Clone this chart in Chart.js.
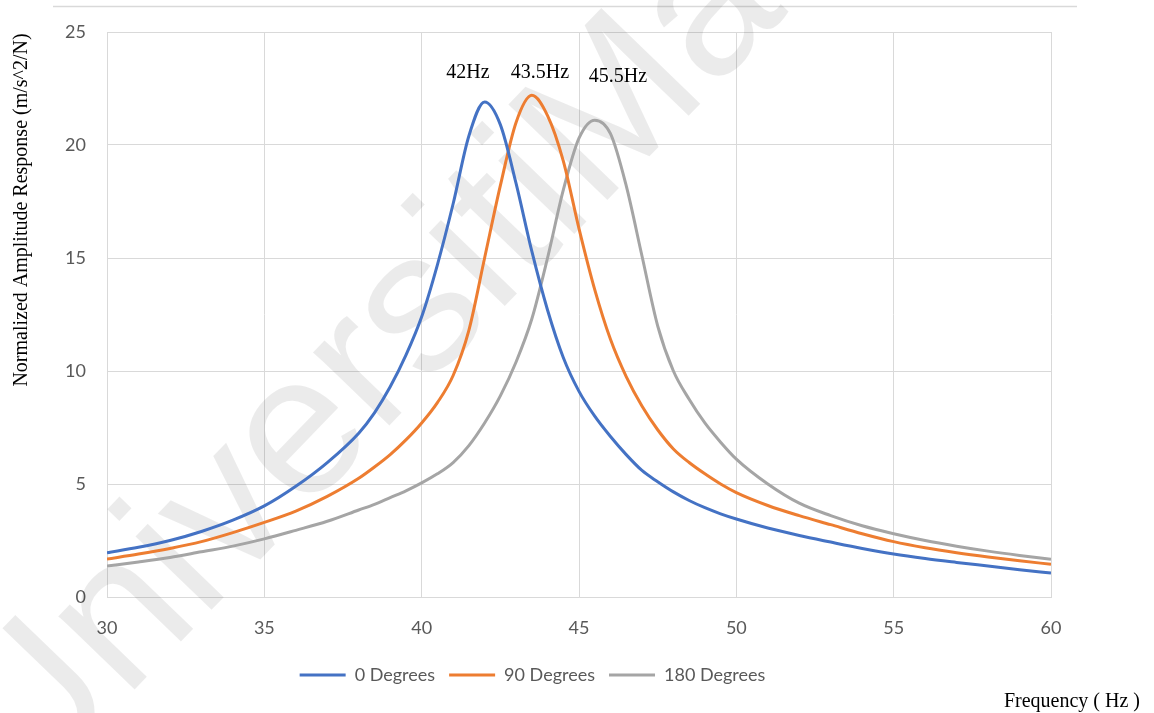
<!DOCTYPE html>
<html>
<head>
<meta charset="utf-8">
<script src="https://cdn.jsdelivr.net/npm/chart.js@4.4.0/dist/chart.umd.min.js"></script>
<style>
  html, body { margin: 0; padding: 0; background: #fff; }
</style>
</head>
<body>
<canvas id="resp" width="1154" height="713"></canvas>
<script>
// frequency (Hz) sample points, shared by all three series
const freq = [30, 31, 32, 33, 34, 35, 36, 37, 38, 38.5, 39, 39.5, 40, 40.5, 41, 41.5, 42, 42.5, 43, 43.5,
  44, 44.5, 45, 45.5, 46, 46.5, 47, 47.5, 48, 48.5, 49, 49.5, 50, 51, 52, 53, 54, 55, 56, 57, 58, 59, 60];
const deg0 = [1.96, 2.2, 2.5, 2.9, 3.4, 4.03, 4.9, 5.95, 7.25, 8.15, 9.3, 10.7, 12.4, 14.7, 17.4, 20.4, 21.9, 20.9, 18.3, 15.3,
  12.7, 10.6, 9.1, 8.0, 7.1, 6.3, 5.6, 5.1, 4.65, 4.27, 3.95, 3.68, 3.45, 3.05, 2.72, 2.43, 2.15, 1.9, 1.7, 1.53, 1.37, 1.21, 1.06];
const deg90 = [1.68, 1.9, 2.15, 2.45, 2.85, 3.3, 3.8, 4.45, 5.25, 5.75, 6.3, 6.95, 7.7, 8.6, 9.8, 11.8, 15.0, 18.2, 21.0, 22.2,
  21.3, 19.3, 16.3, 13.6, 11.4, 9.75, 8.45, 7.4, 6.55, 5.95, 5.45, 5.0, 4.62, 4.05, 3.6, 3.2, 2.8, 2.45, 2.18, 1.96, 1.77, 1.6, 1.45];
const deg180 = [1.37, 1.55, 1.75, 2.0, 2.25, 2.57, 2.95, 3.35, 3.85, 4.1, 4.4, 4.7, 5.05, 5.45, 5.95, 6.7, 7.7, 8.9, 10.4, 12.3,
  15.0, 18.0, 20.3, 21.1, 20.5, 18.2, 15.1, 12.0, 10.0, 8.75, 7.7, 6.85, 6.1, 5.0, 4.15, 3.6, 3.15, 2.8, 2.5, 2.25, 2.03, 1.84, 1.67];
const seriesNames = ['0 Degrees', '90 Degrees', '180 Degrees'];
const seriesColors = ['#4472c4', '#ed7d31', '#a5a5a5'];

// peak annotations (text, x in Hz, y in response units)
const peakText = ['42Hz', '43.5Hz', '45.5Hz'];
const peakX = [41.47, 43.76, 46.24];
const peakY = [23.2, 23.2, 23.0];

const yTitle = 'Normalized Amplitude Response (m/s^2/N)';
const xTitle = 'Frequency ( Hz )';
const watermark = 'UniversitiMa';

const toPoints = (ys) => freq.map((f, i) => ({ x: f, y: ys[i] }));
const allSeries = [deg0, deg90, deg180];

const extras = {
  id: 'extras',
  afterLayout(chart) {
    // nudge the legend a little to the right, like the original
    chart.legend.left += 7;
    chart.legend.right += 7;
  },
  beforeDraw(chart) {
    const ctx = chart.ctx;
    ctx.save();
    ctx.strokeStyle = '#d9d9d9';
    ctx.lineWidth = 1.5;
    ctx.beginPath();
    ctx.moveTo(53, 6.5);
    ctx.lineTo(1077, 6.5);
    ctx.stroke();
    ctx.restore();
  },
  beforeDatasetsDraw(chart) {
    const ctx = chart.ctx;
    ctx.save();
    ctx.translate(-15, 765);
    ctx.rotate(-46 * Math.PI / 180);
    ctx.font = '200px "Liberation Sans"';
    ctx.fillStyle = 'rgba(0,0,0,0.08)';
    ctx.fillText(watermark, 0, 0);
    ctx.restore();
  },
  afterDraw(chart) {
    const ctx = chart.ctx;
    const xs = chart.scales.x, ys = chart.scales.y;
    ctx.save();
    ctx.fillStyle = '#000';
    ctx.font = '20px "Liberation Serif"';
    ctx.textAlign = 'center';
    ctx.textBaseline = 'middle';
    peakText.forEach((t, i) => {
      ctx.fillText(t, xs.getPixelForValue(peakX[i]), ys.getPixelForValue(peakY[i]));
    });
    ctx.textAlign = 'right';
    ctx.fillText(xTitle, 1140, 702);
    ctx.translate(22, 210);
    ctx.rotate(-Math.PI / 2);
    ctx.textAlign = 'center';
    ctx.fillText(yTitle, 0, 0);
    ctx.restore();
  }
};

new Chart(document.getElementById('resp'), {
  type: 'scatter',
  data: {
    datasets: allSeries.map((ys, i) => ({
      label: seriesNames[i],
      data: toPoints(ys),
      showLine: true,
      borderColor: seriesColors[i],
      backgroundColor: seriesColors[i],
      borderWidth: 3,
      pointRadius: 0,
      cubicInterpolationMode: 'monotone'
    }))
  },
  options: {
    responsive: false,
    animation: false,
    devicePixelRatio: 1,
    layout: { padding: { top: 32, right: 103, bottom: 19, left: 0 } },
    plugins: {
      tooltip: { enabled: false },
      legend: {
        position: 'bottom',
        labels: {
          usePointStyle: true,
          pointStyle: 'line',
          pointStyleWidth: 46,
          boxHeight: 3,
          padding: 14,
          color: '#595959',
          font: { family: 'Lato', size: 18 }
        }
      }
    },
    scales: {
      x: {
        type: 'linear',
        min: 30, max: 60,
        afterFit: (s) => { s.height = 55; },
        grid: { color: '#d9d9d9', drawTicks: false },
        border: { color: '#d9d9d9' },
        ticks: { stepSize: 5, padding: 20, color: '#595959', font: { family: 'Lato', size: 18 } }
      },
      y: {
        min: 0, max: 25,
        afterFit: (s) => { s.width = 107; },
        grid: { color: '#d9d9d9', drawTicks: false },
        border: { color: '#d9d9d9' },
        ticks: { stepSize: 5, padding: 21, color: '#595959', font: { family: 'Lato', size: 18 } }
      }
    }
  },
  plugins: [extras]
});
</script>
</body>
</html>
